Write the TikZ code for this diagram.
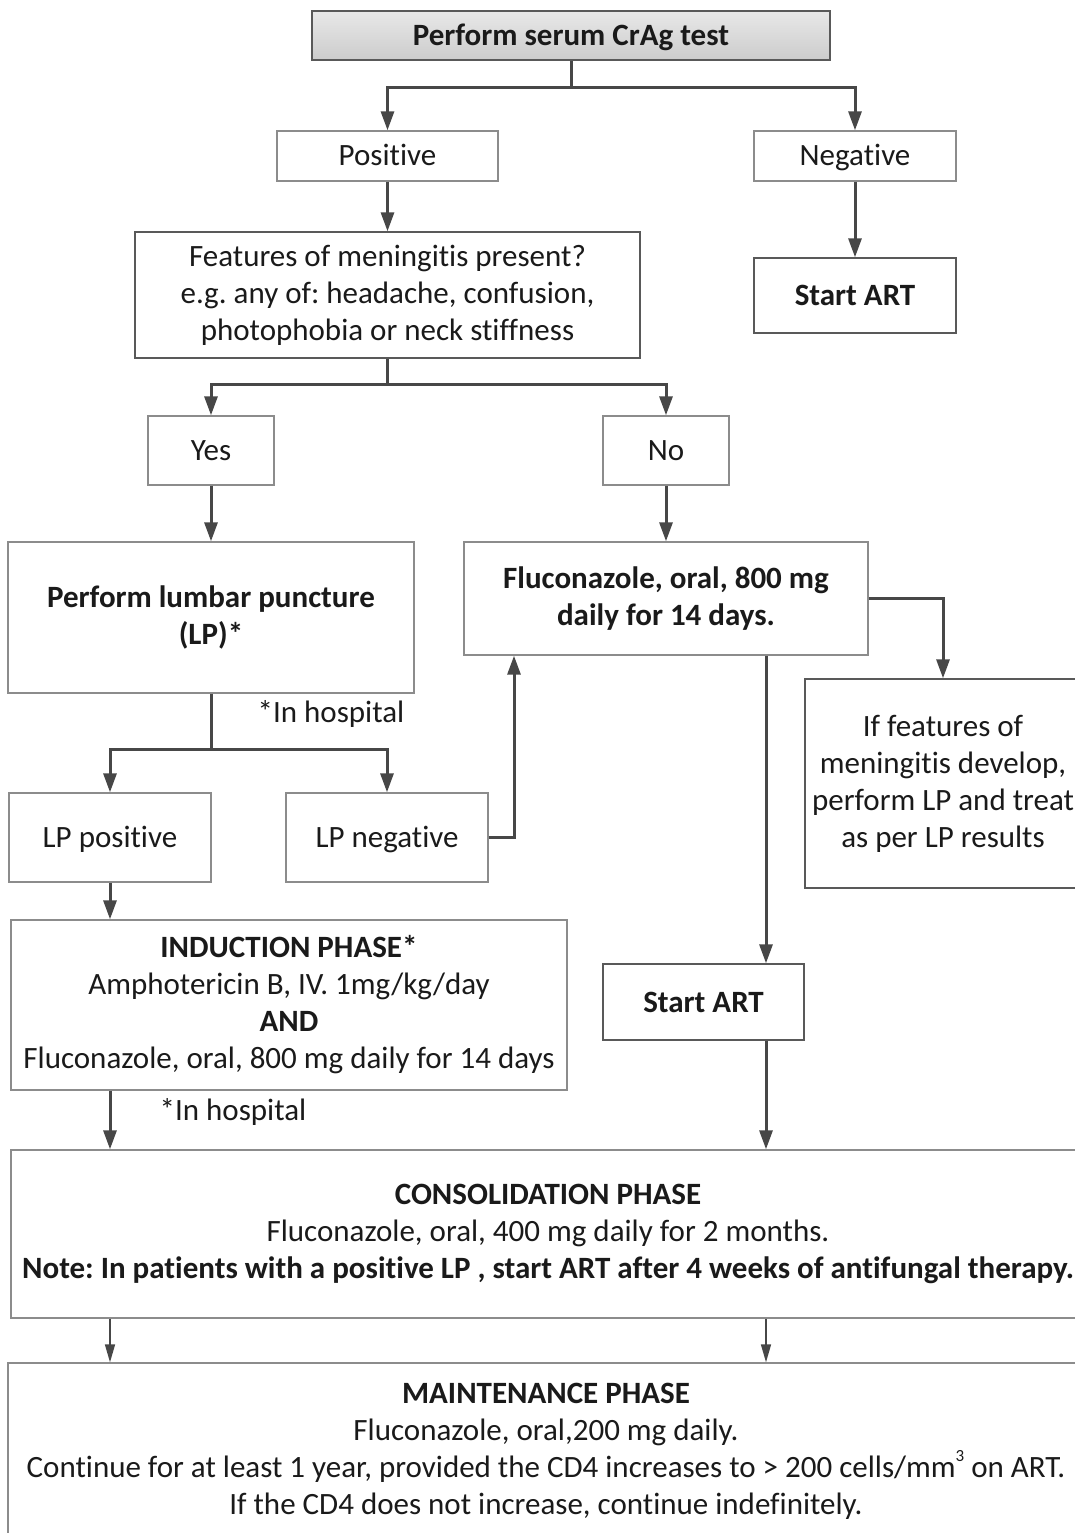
\documentclass[tikz,border=0pt]{standalone}
\usepackage{fontspec}
\setmainfont{Carlito}[Ligatures={NoCommon}]
\usetikzlibrary{arrows.meta}
\definecolor{boxgray}{HTML}{8C8C8C}
\definecolor{arrgray}{HTML}{474747}
\definecolor{txt}{HTML}{1A1A1A}
\frenchspacing
\begin{document}
\begin{tikzpicture}[x=1pt,y=-1pt,
  box/.style={draw=boxgray, line width=1.4pt, align=center, inner sep=0pt, text=txt,
    font=\fontsize{31}{37}\selectfont},
  darkbox/.style={box, draw=arrgray!90},
  one/.style={text height=24pt, text depth=4pt},
  lin/.style={draw=arrgray, line width=3pt, line join=miter},
  arr/.style={lin, -{Triangle[width=13pt,length=19pt]}},
  thinarr/.style={draw=arrgray, line width=1.6pt, -{Triangle[width=10pt,length=18pt]}},
  note/.style={inner sep=0pt, text=txt, font=\fontsize{31}{37}\selectfont}]
\path[use as bounding box, fill=white] (0,0) rectangle (1074,1533);

\node[darkbox, one, minimum width=518pt, minimum height=49pt, top color=gray!18, bottom color=gray!40] (top) at (571,35.5) {\textbf{Perform serum CrAg test}};
\node[box, one, minimum width=221pt, minimum height=50pt] (pos) at (387.5,156) {Positive};
\node[box, one, minimum width=202pt, minimum height=50pt] (neg) at (855,156) {Negative};
\node[darkbox, minimum width=505pt, minimum height=126pt] (feat) at (387.5,295) {Features of meningitis present?\\e.g. any of: headache, confusion,\\photophobia or neck stiffness};
\node[darkbox, one, minimum width=202pt, minimum height=75pt] (art1) at (855,295.5) {\textbf{Start ART}};
\node[box, one, minimum width=126pt, minimum height=69pt] (yes) at (211,450.5) {Yes};
\node[box, one, minimum width=126pt, minimum height=69pt] (no) at (666,450.5) {No};
\node[box, minimum width=406pt, minimum height=151pt] (lp) at (211,617.5) {\textbf{Perform lumbar puncture}\\\textbf{(LP)*}};
\node[box, minimum width=404pt, minimum height=113pt] (fluc) at (666,598.5) {\textbf{Fluconazole, oral, 800 mg}\\\textbf{daily for 14 days.}};
\node[darkbox, minimum width=276pt, minimum height=209pt] (iff) at (943,783.5) {If features of\\meningitis develop,\\perform LP and treat\\as per LP results};
\node[box, one, minimum width=202pt, minimum height=89pt] (lppos) at (110,837.5) {LP positive};
\node[box, one, minimum width=202pt, minimum height=89pt] (lpneg) at (387,837.5) {LP negative};
\node[box, minimum width=556pt, minimum height=170pt] (ind) at (289,1005) {\textbf{INDUCTION PHASE*}\\Amphotericin B, IV. 1mg/kg/day\\\textbf{AND}\\Fluconazole, oral, 800 mg daily for 14 days};
\node[darkbox, one, minimum width=201pt, minimum height=76pt] (art2) at (703.5,1002) {\textbf{Start ART}};
\node[box, minimum width=1074pt, minimum height=168pt] (cons) at (548,1234) {\textbf{CONSOLIDATION PHASE}\\Fluconazole, oral, 400 mg daily for 2 months.\\\textbf{Note: In patients with a positive LP , start ART after 4 weeks of antifungal therapy.}};
\node[box, minimum width=1076pt, minimum height=177pt] (maint) at (546,1451.5) {\textbf{MAINTENANCE PHASE}\\Fluconazole, oral,200 mg daily.\\Continue for at least 1 year, provided the CD4 increases to > 200 cells/mm\raisebox{1.1ex}{\fontsize{17}{17}\selectfont 3} on ART.\\If the CD4 does not increase, continue indefinitely.};

\node[note, one] (hosp1) at (331,712) {*In hospital};
\node[note, one] (hosp2) at (233,1110) {*In hospital};

\coordinate (j1) at (571,88);
\coordinate (j2) at (387.5,384);
\coordinate (j3) at (211,749);
\coordinate (c766) at (766,0);
\coordinate (c514) at (514,0);
\coordinate (c110) at (110,0);

\draw[lin] (top.south) -- (j1);
\draw[arr] (j1) -| (pos.north);
\draw[arr] (j1) -| (neg.north);
\draw[arr] (pos.south) -- (feat.north);
\draw[arr] (neg.south) -- (art1.north);
\draw[lin] (feat.south) -- (j2);
\draw[arr] (j2) -| (yes.north);
\draw[arr] (j2) -| (no.north);
\draw[arr] (yes.south) -- (lp.north);
\draw[arr] (no.south) -- (fluc.north);
\draw[arr] (fluc.east) -| (iff.north);
\draw[arr] (fluc.south -| c766) -- (art2.north -| c766);
\draw[arr] (art2.south -| c766) -- (cons.north -| c766);
\draw[lin] (lp.south) -- (j3);
\draw[arr] (j3) -| (lppos.north);
\draw[arr] (j3) -| (lpneg.north);
\draw[arr] (lpneg.east) -| (fluc.south -| c514);
\draw[arr] (lppos.south) -- (ind.north -| lppos.south);
\draw[arr] (ind.south -| c110) -- (cons.north -| c110);
\draw[thinarr] (cons.south -| c110) -- (maint.north -| c110);
\draw[thinarr] (cons.south -| c766) -- (maint.north -| c766);
\end{tikzpicture}
\end{document}
